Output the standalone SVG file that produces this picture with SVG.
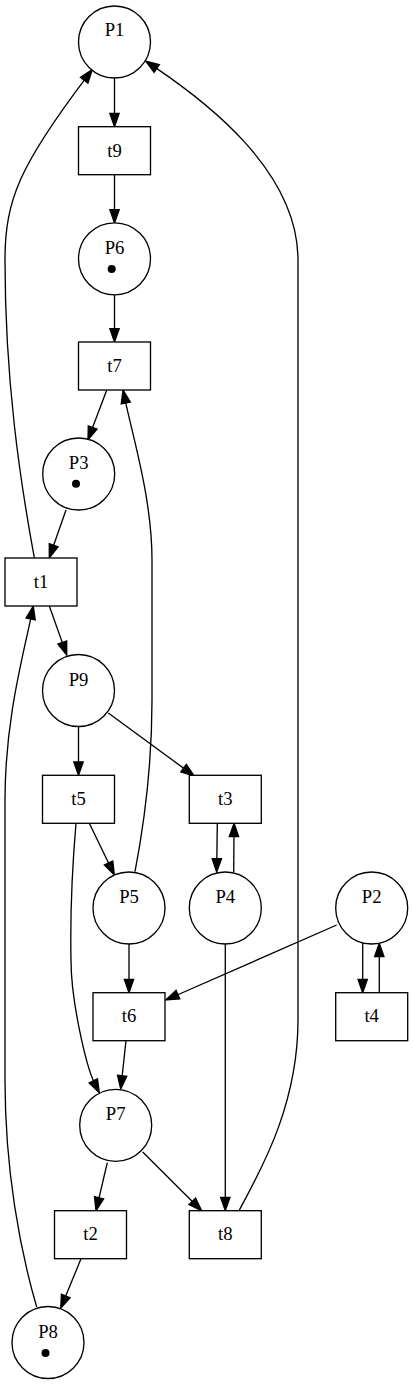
<svg xmlns="http://www.w3.org/2000/svg" width="413" height="1384" viewBox="0 0 413 1384">
<style>
.place circle.b{fill:#fff;stroke:#000;stroke-width:1.33}
.trans rect{fill:#fff;stroke:#000;stroke-width:1.33}
.tok{fill:#000}
text{font-family:"Liberation Serif","Times New Roman",serif;font-size:18.67px;text-anchor:middle;fill:#000}
#edges path{fill:none;stroke:#000;stroke-width:1.33;marker-end:url(#ah)}
</style>
<defs>
<marker id="ah" markerWidth="16" markerHeight="12" refX="3.3" refY="4.67" orient="auto" markerUnits="userSpaceOnUse" viewBox="-1 -1 16 12" overflow="visible">
<path d="M0,0 L13.3,4.67 L0,9.33 z" fill="#000" stroke="#000" stroke-width="1.33"/>
</marker>
</defs>
<rect x="0" y="0" width="413" height="1384" fill="#fff"/>
<g id="edges">
<path d="M114.5,78 L114.5,116.7"/>
<path d="M114.5,174.7 L114.5,213"/>
<path d="M114.5,294.5 L114.5,332"/>
<path d="M106.7,390 L91.5,430.6"/>
<path d="M66,510 L52.6,548.3"/>
<path d="M49.3,606 L63.4,645.6"/>
<path d="M78.5,726.5 L78.5,765.3"/>
<path d="M108.3,713 L186.2,770.1"/>
<path d="M217.3,823.3 L216.8,862"/>
<path d="M233.7,872 L234,833.3"/>
<path d="M89.3,823.3 L110,866"/>
<path d="M129,944 L129,982.7"/>
<path d="M336.7,925 L174.9,996"/>
<path d="M362.7,942.9 L362.7,982.7"/>
<path d="M379.3,992.7 L379.3,953.2"/>
<path d="M126,1040.7 L121.8,1079.1"/>
<path d="M107.3,1162.7 L98.3,1201"/>
<path d="M142.7,1152 L194.6,1203.7"/>
<path d="M225.3,944 L225.3,1200.7"/>
<path d="M81,1258.7 L64.5,1299"/>
<path d="M34.3,557.7 C20,480 5,380 5,260 C5,200 20,165 86.2,77.6"/>
<path d="M239,1210.7 C256,1178 298,1110 298,1020 L298,260 C298,170 203.8,100.2 154,66.6"/>
<path d="M135,871.7 C143,830 152,770 152,700 L152,560 C152,500 133.4,438.9 125.1,399.8"/>
<path d="M76,823.3 C72,870 70,910 71,960 C71,1000 85.8,1066 94.8,1083.8"/>
<path d="M36.7,1307 C20,1250 5,1170 5,1080 L5,800 C5,720 23.3,655 31.3,615.8"/>
</g>
<g id="P1" class="place"><circle class="b" cx="114.5" cy="42" r="36"/><text x="114.5" y="36">P1</text></g>
<g id="t9" class="trans"><rect x="78.5" y="126.7" width="72" height="48"/><text x="114.5" y="156.5">t9</text></g>
<g id="P6" class="place"><circle class="b" cx="114.5" cy="258.8" r="36"/><text x="114.5" y="254">P6</text><circle class="tok" cx="111.7" cy="269" r="4"/></g>
<g id="t7" class="trans"><rect x="78.5" y="342" width="72" height="48"/><text x="114.5" y="371.5">t7</text></g>
<g id="P3" class="place"><circle class="b" cx="78.7" cy="474" r="36"/><text x="78.7" y="469">P3</text><circle class="tok" cx="76" cy="483.7" r="4"/></g>
<g id="t1" class="trans"><rect x="5" y="558" width="72" height="48"/><text x="41" y="587.5">t1</text></g>
<g id="P9" class="place"><circle class="b" cx="78.5" cy="690.5" r="36"/><text x="78.5" y="685.5">P9</text></g>
<g id="t5" class="trans"><rect x="42.5" y="775.3" width="72" height="48"/><text x="78.5" y="805">t5</text></g>
<g id="t3" class="trans"><rect x="189.3" y="775.3" width="72" height="48"/><text x="225.3" y="805">t3</text></g>
<g id="P5" class="place"><circle class="b" cx="129" cy="908" r="36"/><text x="129" y="903">P5</text></g>
<g id="P4" class="place"><circle class="b" cx="225.3" cy="908" r="36"/><text x="225.3" y="903">P4</text></g>
<g id="P2" class="place"><circle class="b" cx="371.7" cy="908" r="36"/><text x="371.7" y="903">P2</text></g>
<g id="t6" class="trans"><rect x="93" y="992.7" width="72" height="48"/><text x="129" y="1022">t6</text></g>
<g id="t4" class="trans"><rect x="335.7" y="992.7" width="72" height="48"/><text x="371.7" y="1022">t4</text></g>
<g id="P7" class="place"><circle class="b" cx="115.7" cy="1125.3" r="36"/><text x="115.7" y="1120">P7</text></g>
<g id="t2" class="trans"><rect x="54.5" y="1210.7" width="72" height="48"/><text x="90.5" y="1240">t2</text></g>
<g id="t8" class="trans"><rect x="189.3" y="1210.7" width="72" height="48"/><text x="225.3" y="1240">t8</text></g>
<g id="P8" class="place"><circle class="b" cx="48" cy="1342.5" r="36"/><text x="48" y="1338">P8</text><circle class="tok" cx="45.5" cy="1353" r="4"/></g>
</svg>
